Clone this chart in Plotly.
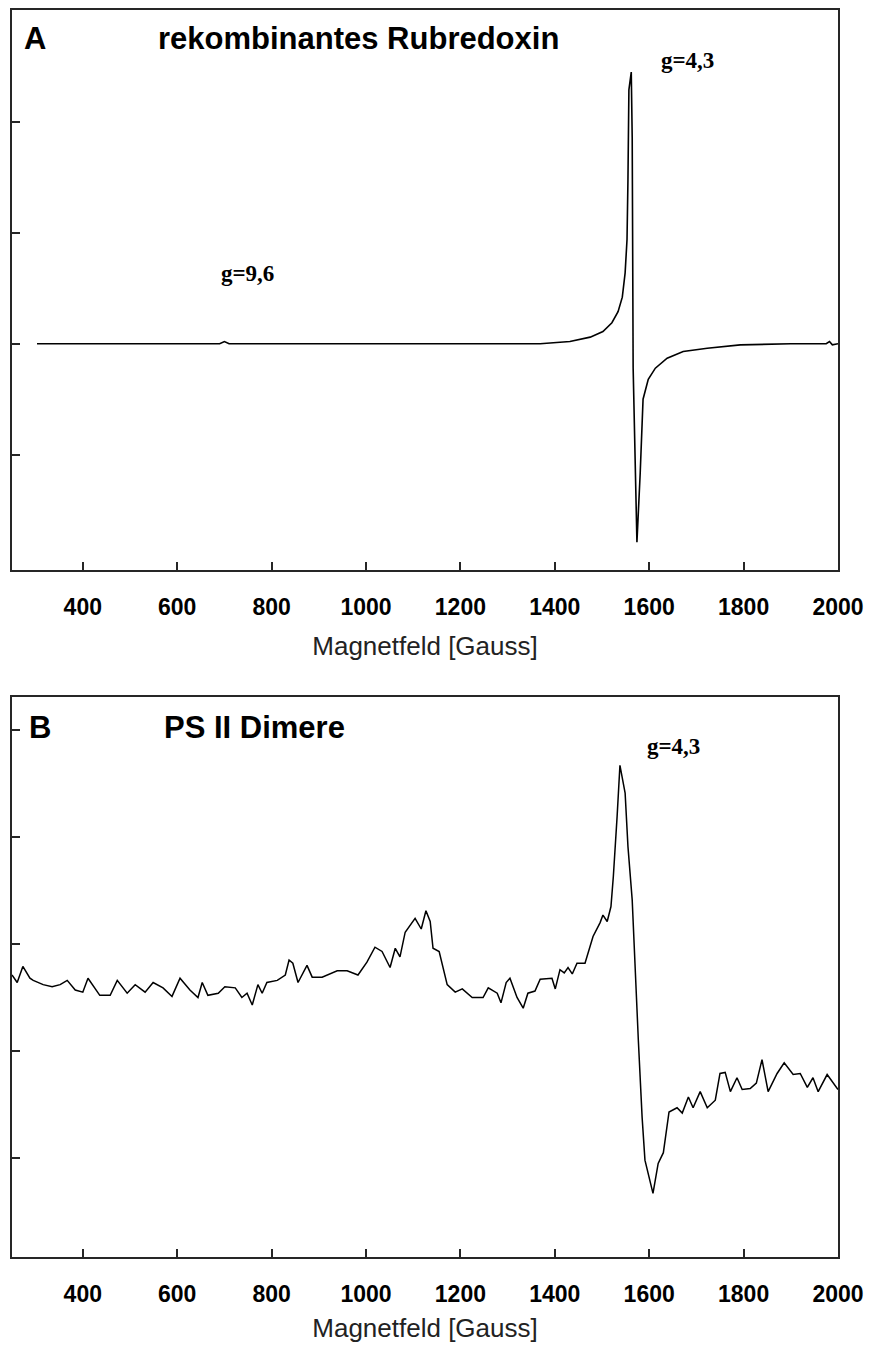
import plotly.graph_objects as go

# ---------------- Data ----------------
# Panel A: recombinant rubredoxin EPR spectrum (field in Gauss, signal in arbitrary units)
a_field = [303, 400, 500, 600, 690, 700, 710, 800, 900, 1000, 1100, 1200, 1300, 1369,
           1432, 1475, 1502, 1521, 1534, 1543, 1549, 1553, 1555, 1557, 1562, 1564,
           1566, 1570, 1574, 1581, 1587, 1598, 1613, 1638, 1672, 1723, 1793, 1900,
           1975, 1982, 1988, 2000]
a_signal = [0, 0, 0, 0, 0, 0.02, 0, 0, 0, 0, 0, 0, 0, 0,
            0.02, 0.06, 0.11, 0.19, 0.29, 0.42, 0.64, 0.94, 1.48, 2.29, 2.45, 1.86,
            -0.22, -1.16, -1.79, -1.16, -0.50, -0.32, -0.22, -0.13, -0.07, -0.04, -0.01, 0,
            0, 0.02, -0.01, 0]

# Panel B: PS II dimer EPR spectrum
b_field = [250, 261, 273, 288, 295, 316, 335, 352, 367, 384, 400, 411, 436, 458, 473,
           494, 511, 532, 549, 570, 589, 606, 627, 644, 653, 665, 687, 701, 723, 737,
           748, 759, 771, 780, 790, 812, 829, 837, 845, 856, 875, 886, 907, 939, 960,
           983, 1002, 1019, 1034, 1051, 1062, 1072, 1083, 1104, 1117, 1127, 1136, 1142,
           1155, 1172, 1189, 1204, 1225, 1248, 1259, 1278, 1286, 1297, 1305, 1320, 1333,
           1343, 1358, 1369, 1394, 1401, 1411, 1420, 1428, 1437, 1447, 1464, 1481, 1496,
           1502, 1511, 1519, 1524, 1532, 1538, 1549, 1555, 1564, 1570, 1577, 1585, 1591,
           1608, 1619, 1630, 1642, 1659, 1670, 1683, 1693, 1708, 1723, 1740, 1750, 1761,
           1772, 1786, 1797, 1814, 1827, 1839, 1852, 1871, 1886, 1905, 1920, 1935, 1947,
           1958, 1977, 2000]
b_signal = [1.71, 1.64, 1.79, 1.68, 1.66, 1.62, 1.60, 1.62, 1.66, 1.57, 1.55, 1.68, 1.52, 1.52, 1.66,
            1.54, 1.62, 1.55, 1.64, 1.59, 1.51, 1.68, 1.57, 1.50, 1.64, 1.52, 1.54, 1.60, 1.59, 1.50,
            1.54, 1.43, 1.62, 1.54, 1.64, 1.66, 1.71, 1.85, 1.82, 1.64, 1.80, 1.69, 1.69, 1.75, 1.75,
            1.71, 1.83, 1.97, 1.93, 1.78, 1.96, 1.88, 2.11, 2.24, 2.14, 2.31, 2.21, 1.96,
            1.93, 1.62, 1.55, 1.58, 1.50, 1.50, 1.59, 1.54, 1.45, 1.64, 1.68, 1.50, 1.40,
            1.54, 1.56, 1.67, 1.68, 1.58, 1.76, 1.73, 1.78, 1.72, 1.82, 1.82, 2.07, 2.20,
            2.27, 2.21, 2.35, 2.63, 3.19, 3.67, 3.41, 2.91, 2.41, 1.76, 1.10, 0.38, -0.02,
            -0.33, -0.05, 0.05, 0.43, 0.47, 0.42, 0.57, 0.47, 0.62, 0.47, 0.54, 0.79, 0.80,
            0.62, 0.75, 0.64, 0.65, 0.70, 0.92, 0.62, 0.79, 0.89, 0.78, 0.79, 0.66, 0.75,
            0.62, 0.78, 0.64]

x_ticks = [400, 600, 800, 1000, 1200, 1400, 1600, 1800, 2000]
x_tick_labels = ["400", "600", "800", "1000", "1200", "1400", "1600", "1800", "2000"]
a_yticks = [-1, 0, 1, 2]
b_yticks = [0, 1, 2, 3, 4]
x_title = "Magnetfeld [Gauss]"

# ---------------- Figure ----------------
# The page body keeps the browser's default 8 px margin, so the figure is
# 16 px smaller than the window and all reference positions are shifted by 8 px.
OFF = 8
W, H = 872 - 2 * OFF, 1351 - 2 * OFF
def px(v):
    return (v - OFF) / W
def py(v):
    return 1 - (v - OFF) / H

frame_color = "#262626"
fig = go.Figure()
fig.add_trace(go.Scatter(x=a_field, y=a_signal, mode="lines",
                         line=dict(color="black", width=1.6), xaxis="x", yaxis="y",
                         hoverinfo="skip"))
fig.add_trace(go.Scatter(x=b_field, y=b_signal, mode="lines",
                         line=dict(color="black", width=1.5), xaxis="x2", yaxis="y2",
                         hoverinfo="skip"))

tickfont = dict(family="Liberation Sans, Arial, sans-serif", size=23, color="black", weight="bold")
titlefont = dict(family="Liberation Sans, Arial, sans-serif", size=26, color="#222222")

def xaxis_cfg(domain_anchor):
    return dict(
        domain=[px(12), px(838)], range=[250, 2000], anchor=domain_anchor,
        tickmode="array", tickvals=x_ticks, ticktext=x_tick_labels,
        ticks="inside", ticklen=8, tickwidth=1.5, tickcolor=frame_color,
        showline=True, linecolor=frame_color, linewidth=2, mirror=True,
        showgrid=False, zeroline=False, tickfont=tickfont, ticklabelstandoff=15,
        title=dict(text=x_title, font=titlefont, standoff=18),
        automargin=False, fixedrange=True,
    )

def yaxis_cfg(domain, rng, ticks, anchor):
    return dict(
        domain=domain, range=rng, anchor=anchor,
        tickmode="array", tickvals=ticks, showticklabels=False,
        ticks="inside", ticklen=8, tickwidth=1.5, tickcolor=frame_color,
        showline=True, linecolor=frame_color, linewidth=2, mirror=True,
        showgrid=False, zeroline=False, automargin=False, fixedrange=True,
    )

fig.update_layout(
    width=W, height=H, autosize=False,
    margin=dict(l=0, r=0, t=0, b=0, pad=0, autoexpand=False),
    paper_bgcolor="white", plot_bgcolor="white", showlegend=False,
    xaxis=xaxis_cfg("y"),
    yaxis=yaxis_cfg([py(570), py(10)], [-2.04, 3.01], a_yticks, "x"),
    xaxis2=xaxis_cfg("y2"),
    yaxis2=yaxis_cfg([py(1257), py(697)], [-0.925, 4.308], b_yticks, "x2"),
)

bold_sans = dict(family="Liberation Sans, Arial, sans-serif", size=31, color="black", weight="bold")
bold_serif = dict(family="Liberation Serif, Times New Roman, serif", size=23, color="black", weight="bold")

annots = [
    ("A", 22, 38, "left", bold_sans),
    ("rekombinantes Rubredoxin", 156, 38, "left", bold_sans),
    ("g=4,3", 687, 61, "center", bold_serif),
    ("g=9,6", 247, 273, "center", bold_serif),
    ("B", 27, 727, "left", bold_sans),
    ("PS II Dimere", 162, 727, "left", bold_sans),
    ("g=4,3", 673, 746, "center", bold_serif),
]
for text, x, y, xa, font in annots:
    fig.add_annotation(text=text, x=px(x), y=py(y), xref="paper", yref="paper",
                       xanchor=xa, yanchor="middle", showarrow=False, font=font)

fig.write_html("out.html")
